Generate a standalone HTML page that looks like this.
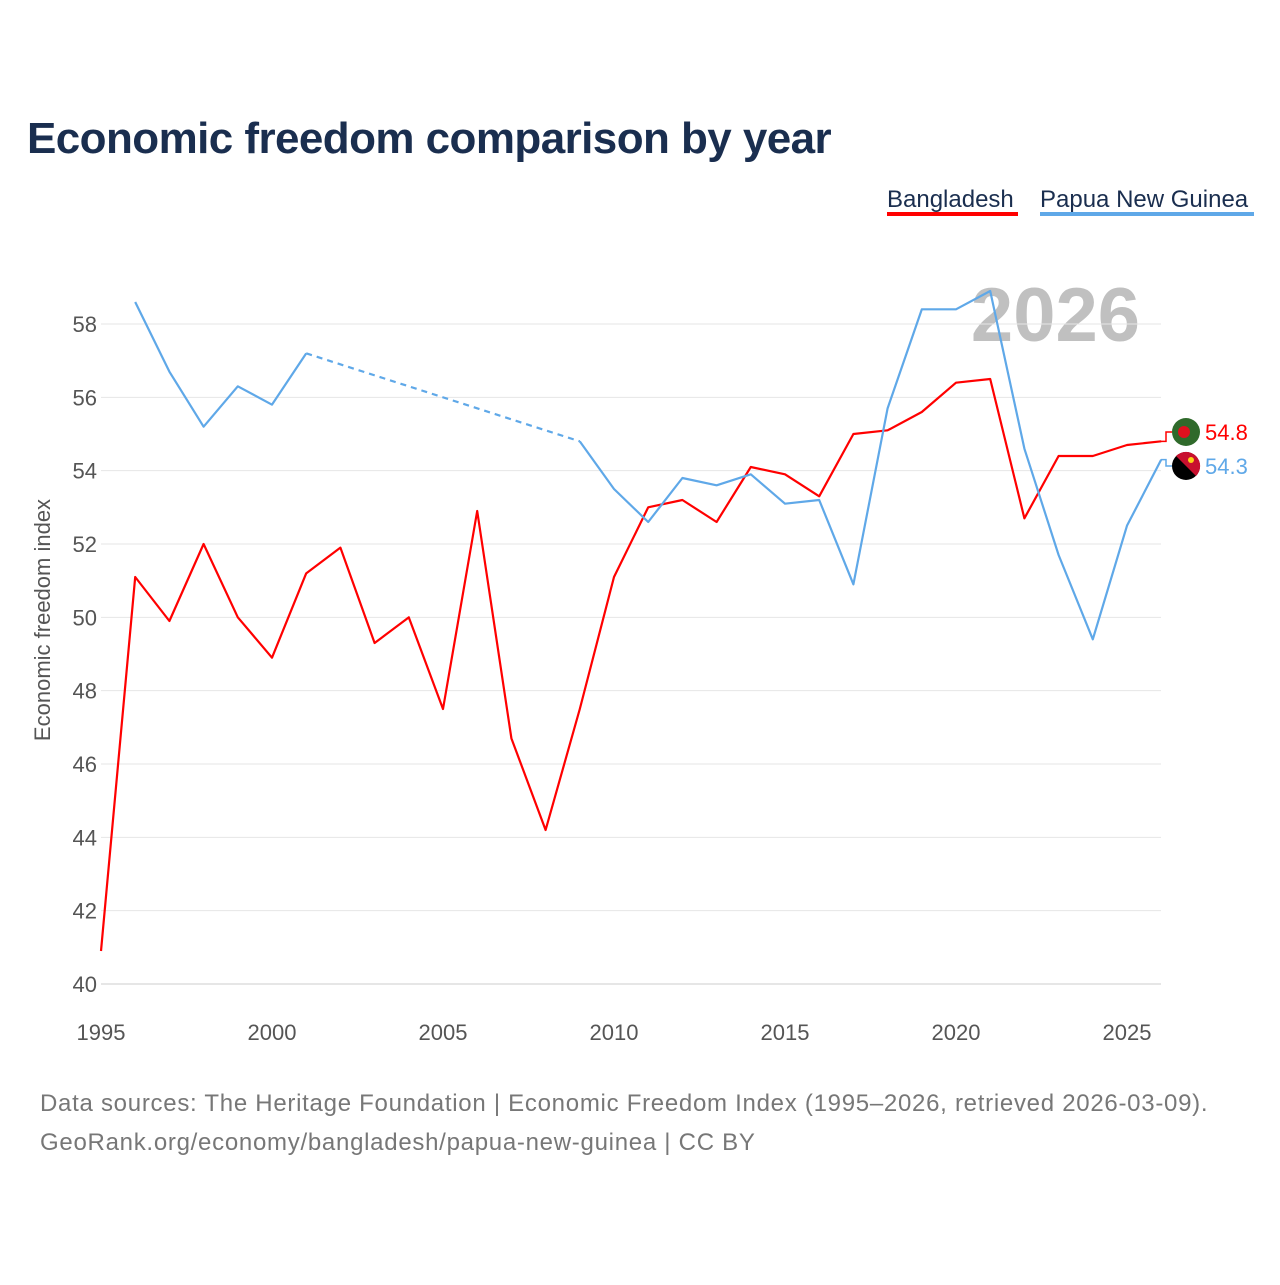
<!DOCTYPE html>
<html><head><meta charset="utf-8"><style>
body{margin:0;background:#fff;width:1280px;height:1280px;overflow:hidden;font-family:"Liberation Sans",sans-serif}
</style></head><body>
<svg id="c" width="1280" height="1280" xmlns="http://www.w3.org/2000/svg">
<text x="27" y="153" font-size="44" font-weight="bold" fill="#1a2e4f" letter-spacing="-0.57">Economic freedom comparison by year</text>
<g><text x="887" y="207" font-size="24" fill="#1a2e4f">Bangladesh</text><rect x="887" y="212" width="131" height="4" fill="#ff0000"/></g>
<g><text x="1040" y="207" font-size="24" fill="#1a2e4f">Papua New Guinea</text><rect x="1040" y="212" width="214" height="4" fill="#5fa8e8"/></g>
<text x="1140" y="341" font-size="76" font-weight="bold" fill="#c0c0c0" text-anchor="end">2026</text>
<text transform="translate(50,620) rotate(-90)" font-size="22" fill="#555" text-anchor="middle">Economic freedom index</text>
<g id="grid"></g><g id="series"></g>
<text x="40" y="1111" font-size="24" fill="#777" letter-spacing="0.72">Data sources: The Heritage Foundation | Economic Freedom Index (1995–2026, retrieved 2026-03-09).</text>
<text x="40" y="1150" font-size="24" fill="#777" letter-spacing="0.72">GeoRank.org/economy/bangladesh/papua-new-guinea | CC BY</text>
</svg>
<script>
const years=[1995,1996,1997,1998,1999,2000,2001,2002,2003,2004,2005,2006,2007,2008,2009,2010,2011,2012,2013,2014,2015,2016,2017,2018,2019,2020,2021,2022,2023,2024,2025,2026];
const bangladesh=[40.9,51.1,49.9,52.0,50.0,48.9,51.2,51.9,49.3,50.0,47.5,52.9,46.7,44.2,47.5,51.1,53.0,53.2,52.6,54.1,53.9,53.3,55.0,55.1,55.6,56.4,56.5,52.7,54.4,54.4,54.7,54.8];
const png=[null,58.6,56.7,55.2,56.3,55.8,57.2,null,null,null,null,null,null,null,54.8,53.5,52.6,53.8,53.6,53.9,53.1,53.2,50.9,55.7,58.4,58.4,58.9,54.6,51.7,49.4,52.5,54.3];
const yTicks=[40,42,44,46,48,50,52,54,56,58];
const xTicks=[1995,2000,2005,2010,2015,2020,2025];
const NS="http://www.w3.org/2000/svg";
const X=y=>101+(y-1995)*(1026/30);
const Y=v=>984-(v-40)*(660/18);
function mk(t,a,p){const e=document.createElementNS(NS,t);for(const k in a)e.setAttribute(k,a[k]);p.appendChild(e);return e;}
const g=document.getElementById('grid'),s=document.getElementById('series');
yTicks.forEach(v=>{
 const l=mk('line',{x1:101,x2:1161,y1:Y(v),y2:Y(v),stroke:v===40?'#ccc':'#e6e6e6','stroke-width':1},g);
 
 
 const t=mk('text',{x:97,y:Y(v)+8,'font-size':22,fill:'#555','text-anchor':'end'},g);t.textContent=v;
 
 
});
xTicks.forEach(v=>{
 const t=mk('text',{x:X(v),y:1040,'font-size':22,fill:'#555','text-anchor':'middle'},g);t.textContent=v;
 
 
});
function draw(vals,color,name){
 let segs=[],cur=[];
 vals.forEach((v,i)=>{if(v==null){if(cur.length)segs.push(cur);cur=[];}else cur.push([X(years[i]),Y(v)]);});
 if(cur.length)segs.push(cur);
 segs.forEach((sg,k)=>{
  const p=mk('polyline',{points:sg.map(q=>q.join(',')).join(' '),fill:'none',stroke:color,'stroke-width':2.2,'stroke-linejoin':'round'},s);
  
  
  if(k<segs.length-1){const n=segs[k+1][0],l=sg[sg.length-1];
   const d=mk('line',{x1:l[0],y1:l[1],x2:n[0],y2:n[1],stroke:color,'stroke-width':2.2,'stroke-dasharray':'6,5'},s);
   
   }
 });
}
draw(bangladesh,'#ff0000','bangladesh');
draw(png,'#5fa8e8','png');
const lb=bangladesh[bangladesh.length-1],lp=png[png.length-1];
mk('path',{d:`M1161 ${Y(lb)} H1166 V432 H1172`,stroke:'#ff0000',fill:'none','stroke-width':1.5},s);
mk('path',{d:`M1161 ${Y(lp)} H1166 V466 H1172`,stroke:'#5fa8e8',fill:'none','stroke-width':1.5},s);
const f1=mk('g',{},s);
mk('circle',{cx:1186,cy:432,r:14,fill:'#2f6a2b'},f1);mk('circle',{cx:1184,cy:432,r:6,fill:'#e0101e'},f1);
const f2=mk('g',{},s);
mk('circle',{cx:1186,cy:466,r:14,fill:'#000'},f2);mk('path',{d:'M1176 456 A14 14 0 0 1 1196 476 Z',fill:'#c8102e'},f2);
mk('circle',{cx:1191,cy:460,r:3,fill:'#fcd116'},f2);
const t1=mk('text',{x:1205,y:440,'font-size':22,fill:'#ff0000'},s);t1.textContent=lb.toFixed(1);

const t2=mk('text',{x:1205,y:474,'font-size':22,fill:'#5fa8e8'},s);t2.textContent=lp.toFixed(1);

</script>
</body></html>
